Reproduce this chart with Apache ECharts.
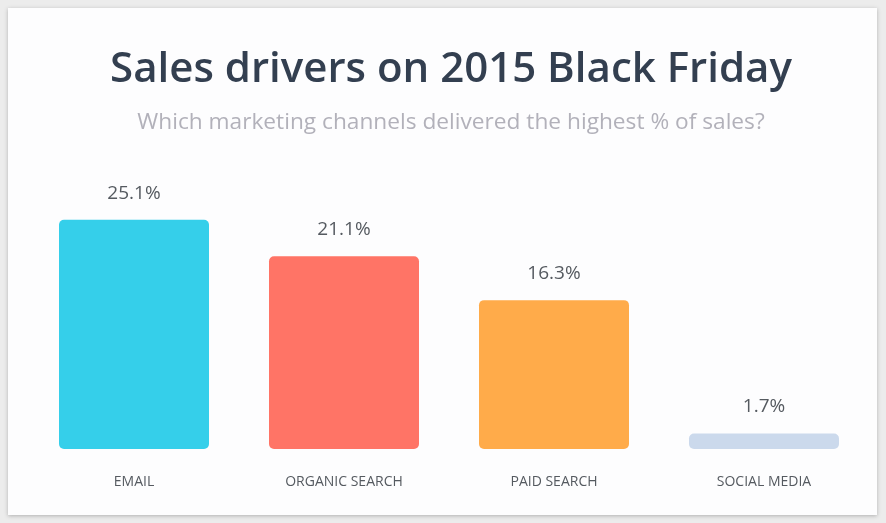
<!DOCTYPE html>
<html>
<head>
<meta charset="utf-8">
<script src="https://cdn.jsdelivr.net/npm/echarts@6/dist/echarts.min.js"></script>
<style>
  html, body { margin: 0; padding: 0; background: #ececec; }
  #card {
    position: absolute; left: 8px; top: 8px; width: 869px; height: 507px;
    background: #fdfdfe; box-shadow: 0 1px 4px rgba(0,0,0,0.25);
  }
  #bar { position: absolute; left: 0; top: 0; width: 886px; height: 523px; }
</style>
</head>
<body>
<div id="card"></div>
<div id="bar"></div>
<script>
const categories = ['EMAIL', 'ORGANIC SEARCH', 'PAID SEARCH', 'SOCIAL MEDIA']
const shares = [25.1, 21.1, 16.3, 1.7]
const barColors = ['#35cfea', '#ff7466', '#ffab4a', '#cbd9ec']

const mychart = echarts.init(document.getElementById('bar'))
const option = {
  backgroundColor: 'transparent',
  title: {
    text: 'Sales drivers on 2015 Black Friday',
    subtext: 'Which marketing channels delivered the highest % of sales?',
    left: 446,
    textAlign: 'center',
    top: 44,
    itemGap: 20,
    textStyle: {
      color: '#333f50',
      fontFamily: 'Open Sans',
      fontWeight: 600,
      fontSize: 42
    },
    subtextStyle: {
      color: '#b2b1ba',
      fontFamily: 'Open Sans',
      fontSize: 22.7
    }
  },
  grid: { left: 29, right: 17, top: 175, bottom: 74 },
  xAxis: {
    type: 'category',
    data: categories,
    axisLine: { show: false },
    axisTick: { show: false },
    axisLabel: {
      color: '#555a60',
      fontFamily: 'Open Sans',
      fontSize: 14,
      margin: 26
    }
  },
  yAxis: {
    type: 'value',
    min: 0,
    max: 30,
    show: false
  },
  series: [
    {
      type: 'bar',
      barWidth: 150,
      data: shares.map((v, i) => ({ value: v, itemStyle: { color: barColors[i] } })),
      itemStyle: { borderRadius: 5 },
      label: {
        show: true,
        position: 'top',
        distance: 17,
        formatter: '{c}%',
        color: '#555a60',
        fontFamily: 'Open Sans',
        fontSize: 19
      }
    }
  ]
}
mychart.setOption(option)
</script>
</body>
</html>
